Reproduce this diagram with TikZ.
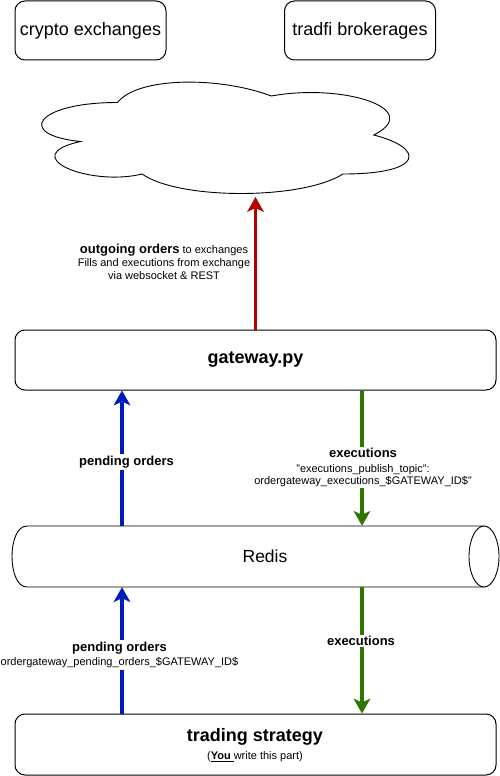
\documentclass[tikz,border=0pt]{standalone}
\usepackage{fontspec}
\setmainfont{Liberation Sans}
\usetikzlibrary{arrows.meta,calc}
\definecolor{cred}{HTML}{B20000}
\definecolor{cblue}{HTML}{001DBC}
\definecolor{cgreen}{HTML}{2D7600}
\begin{document}
\begin{tikzpicture}[x=1pt,y=-1pt,
  box/.style={draw=black, line width=1pt, rounded corners=10pt, inner sep=0pt, fill=white},
  bigtext/.style={font=\fontsize{18}{22}\selectfont},
  flow/.style={line width=3.5pt, -{Stealth[length=15pt,width=17pt,inset=4pt,line width=0pt]}},
  lbl/.style={fill=white, inner sep=1.5pt, align=center, text=black, font=\fontsize{11}{13}\selectfont},
  boldlbl/.style={font=\fontsize{13}{15}\selectfont\bfseries}
]
\useasboundingbox[fill=white] (0,0) rectangle (499,776);

% top boxes
\node[box, bigtext, minimum width=151pt, minimum height=59pt] (crypto) at (90.5,30.5) {crypto exchanges};
\node[box, bigtext, minimum width=151pt, minimum height=59pt] (tradfi) at (360,30.5) {tradfi brokerages};

% cloud
\draw[line width=0.9pt, fill=white] (117.5,102.5)
  .. controls (35.5,102.5) and (15,135) .. (80.6,141.5)
  .. controls (15,155.8) and (88.8,187) .. (142.1,174)
  .. controls (179,200) and (302,200) .. (343,174)
  .. controls (425,174) and (425,148) .. (373.75,135)
  .. controls (425,109) and (343,83) .. (271.25,96)
  .. controls (220,76.5) and (138,76.5) .. (117.5,102.5) -- cycle;
\coordinate (cloudbot) at (255,197);

% gateway
\node[box, bigtext, font=\fontsize{18}{22}\selectfont\bfseries, minimum width=481pt, minimum height=60pt] (gw) at (255.5,360) {gateway.py};

% redis cylinder
\node[minimum width=487pt, minimum height=61pt, inner sep=0pt] (redis) at (255.5,556.5) {};
\draw[line width=0.9pt, fill=white] (484,526) -- (27,526) .. controls (7,526) and (7,587) .. (27,587) -- (484,587);
\draw[line width=0.9pt, fill=white] (484,556.5) ellipse [x radius=15, y radius=30.5];
\node[font=\fontsize{17.5}{21}\selectfont] (redistext) at (265,556) {Redis};

% trading strategy
\node[box, minimum width=481pt, minimum height=61pt] (ts) at (255.5,744.5) {};
\node[font=\fontsize{18}{22}\selectfont\bfseries, inner sep=0pt] (tst) at (255,737) {trading strategy};
\node[font=\fontsize{11}{13}\selectfont, inner sep=0pt] (tsn) at (255,756.5) {(\underline{\textbf{You}\ }write this part)};

% x positions of vertical flows
\coordinate (bx) at (122,0);
\coordinate (gx) at (362,0);

% arrows
\draw[flow, cred] (gw.north) -- (gw.north |- cloudbot);
\draw[flow, cblue] (redis.north -| bx) -- (gw.south -| bx);
\draw[flow, cgreen] (gw.south -| gx) -- (redis.north -| gx);
\draw[flow, cblue] (ts.north -| bx) -- (redis.south -| bx);
\draw[flow, cgreen] (redis.south -| gx) -- (ts.north -| gx);

% labels
\node[lbl] (redlbl) at (164,262) {{\fontsize{13}{13}\selectfont\bfseries outgoing orders} to exchanges\\Fills and executions from exchange\\via websocket \& REST};
\node[lbl, boldlbl] (pend1) at (126.5,462) {pending orders};
\node[lbl, font=\fontsize{11}{12.5}\selectfont] (exec1) at (363,467.5) {{\fontsize{13}{15}\selectfont\bfseries executions}\\[2pt]"executions\_publish\_topic":\\ordergateway\_executions\_\$GATEWAY\_ID\$"};
\node[lbl, font=\fontsize{11}{14.5}\selectfont] (pend2) at (119.5,655) {{\fontsize{13}{15}\selectfont\bfseries pending orders}\\ordergateway\_pending\_orders\_\$GATEWAY\_ID\$};
\node[lbl, boldlbl] (exec2) at (361,641) {executions};
\end{tikzpicture}
\end{document}
